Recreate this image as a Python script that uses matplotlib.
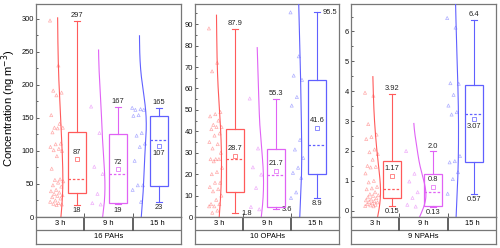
import numpy as np
import matplotlib.pyplot as plt
from matplotlib.patches import Rectangle
from matplotlib.ticker import MultipleLocator

plt.rcParams["font.family"] = ["Liberation Sans", "DejaVu Sans"]

hours = ["3 h", "9 h", "15 h"]
groups = ["16 PAHs", "10 OPAHs", "9 NPAHs"]
colors = ["#FF5A5A", "#E062F5", "#6060FF"]

# individual samples (ng m-3)
pah_3h = [297, 229, 191, 188, 184, 154, 141, 135, 135, 134, 128, 111, 110, 106, 103,
          101, 100, 92, 73, 57, 56, 54, 52, 48, 46, 41, 39, 37, 35, 33, 32, 30, 28,
          25, 23, 21, 20, 19, 18]
pah_9h = [167, 127, 76, 65, 35, 21, 19]
pah_15h = [165, 163, 162, 162, 154, 153, 127, 123, 111, 106, 85, 48, 48, 41, 23]

opah_3h = [88, 72, 68, 49, 48, 47, 45, 43, 42, 42, 41, 39, 38, 35, 34, 32, 30, 27,
           27, 27, 26, 23, 21, 20, 16, 16, 14, 13, 12, 10, 8, 6, 6, 5, 5, 3, 2]
opah_9h = [55.3, 32, 23.2, 19.8, 13.6, 4.7, 3.6]
opah_15h = [95.5, 75, 66, 64, 56, 52, 36, 31.5, 27.6, 23, 20.6, 18.3, 11.5, 8.9]

npah_3h = [3.95, 3.85, 2.9, 2.55, 2.47, 2.4, 2.05, 1.96, 1.9, 1.71, 1.5, 1.47, 1.45,
           1.25, 1.0, 0.95, 0.8, 0.75, 0.72, 0.62, 0.55, 0.52, 0.5, 0.45, 0.42, 0.38,
           0.35, 0.32, 0.3, 0.28, 0.25, 0.22, 0.2, 0.18, 0.16, 0.15]
npah_9h = [2.0, 1.24, 0.98, 0.62, 0.43, 0.2, 0.14]
npah_15h = [6.45, 6.13, 4.27, 4.25, 3.88, 3.52, 3.3, 3.22, 1.83, 1.66, 1.62, 1.29,
            1.06, 0.57]

# box statistics
pah_q1, pah_med, pah_q3 = [36, 21, 47], [57, 64.5, 117], [128, 126, 153]
opah_q1, opah_med, opah_q3 = [11.5, 4.7, 20.3], [27.1, 19.7, 33.4], [41.3, 31.7, 63.8]
npah_q1, npah_med, npah_q3 = [0.41, 0.17, 1.63], [0.73, 0.64, 3.25], [1.67, 1.23, 4.22]

pah_mean, pah_min, pah_max = ["87", "72", "107"], ["18", "19", "23"], ["297", "167", "165"]
opah_mean, opah_min, opah_max = ["28.7", "21.7", "41.6"], ["1.8", "3.6", "8.9"], ["87.9", "55.3", "95.5"]
npah_mean, npah_min, npah_max = ["1.17", "0.8", "3.07"], ["0.15", "0.13", "0.57"], ["3.92", "2.0", "6.4"]

FS = 5.4
EDGE = "#777777"


def draw_panel(ax, tax, samples, q1, med, q3, mean_s, lo_s, hi_s, ylim, major, minor, name):
    pos = [0.84, 1.69, 2.54]
    box_w = 0.37
    cap_w = 0.12
    yr = ylim[1] - ylim[0]
    for i in range(3):
        c = colors[i]
        p = pos[i]
        d = np.asarray(samples[i], float)
        mean, lo, hi = float(mean_s[i]), float(lo_s[i]), float(hi_s[i])

        k = np.arange(len(d))
        jit = ((k * 0.618034) % 1.0 - 0.5) * 0.28
        ax.scatter(p - 0.41 + jit, d, marker="^", s=5, facecolors="none",
                   edgecolors=c, linewidths=0.5, alpha=0.5, zorder=2)

        # half violin (gaussian kde outline)
        sd = d.std(ddof=1)
        bw = 0.75 * sd
        yy = np.linspace(d.mean() - 3.2 * sd, d.mean() + 3.2 * sd, 300)
        dens = np.exp(-0.5 * ((yy[:, None] - d[None, :]) / bw) ** 2).sum(1)
        dens /= len(d) * bw * np.sqrt(2 * np.pi)
        ax.plot(p - 0.40 + dens * yr * 0.07, yy, color=c, lw=0.8, zorder=3)

        ax.add_patch(Rectangle((p - box_w / 2, q1[i]), box_w, q3[i] - q1[i],
                               fill=False, ec=c, lw=0.9, zorder=4))
        ax.plot([p - box_w / 2, p + box_w / 2], [med[i], med[i]], color=c,
                ls=(0, (2.0, 1.5)), lw=0.9, zorder=4)
        ax.plot([p, p], [q3[i], hi], color=c, lw=0.8, zorder=4)
        ax.plot([p, p], [lo, q1[i]], color=c, lw=0.8, zorder=4)
        for v in (lo, hi):
            ax.plot([p - cap_w / 2, p + cap_w / 2], [v, v], color=c, lw=0.8, zorder=4)
        ax.plot(p, mean, marker="s", ms=2.3, mfc="none", mec=c, mew=0.5, zorder=5)

        if med[i] > mean:
            ax.annotate(mean_s[i], (p, mean), xytext=(0, -3), textcoords="offset points",
                        ha="center", va="top", fontsize=FS, color="#222222")
        else:
            ax.annotate(mean_s[i], (p, mean), xytext=(0, 2.5), textcoords="offset points",
                        ha="center", va="bottom", fontsize=FS, color="#222222")

        if (ylim[1] - hi) / yr < 0.06:
            ax.annotate(hi_s[i], (p + cap_w / 2, hi), xytext=(2, 0), textcoords="offset points",
                        ha="left", va="center", fontsize=FS, color="#222222")
        else:
            ax.annotate(hi_s[i], (p, hi), xytext=(0, 1), textcoords="offset points",
                        ha="center", va="bottom", fontsize=FS, color="#222222")
        if (lo - ylim[0]) / yr < 0.04:
            ax.annotate(lo_s[i], (p + cap_w / 2, lo), xytext=(2, 0), textcoords="offset points",
                        ha="left", va="center", fontsize=FS, color="#222222")
        else:
            ax.annotate(lo_s[i], (p, lo), xytext=(0, -1.5), textcoords="offset points",
                        ha="center", va="top", fontsize=FS, color="#222222")

    ax.set_xlim(0, 3)
    ax.set_ylim(*ylim)
    ax.yaxis.set_major_locator(MultipleLocator(major))
    ax.yaxis.set_minor_locator(MultipleLocator(minor))
    ax.set_xticks([1, 2])
    ax.set_xticklabels([])
    ax.tick_params(axis="both", which="both", direction="in", colors="#444444",
                   labelcolor="#111111", labelsize=FS, pad=1.5, width=0.6)
    ax.tick_params(axis="y", which="major", length=2.5)
    ax.tick_params(axis="y", which="minor", length=1.5)
    ax.tick_params(axis="x", length=3)
    for s in ax.spines.values():
        s.set_color(EDGE)
        s.set_linewidth(0.9)

    tax.set_xlim(0, 3)
    tax.set_ylim(0, 26.5)
    tax.set_xticks([])
    tax.set_yticks([])
    for s in tax.spines.values():
        s.set_color(EDGE)
        s.set_linewidth(0.9)
    tax.axhline(14, color=EDGE, lw=0.9)
    for x in (1, 2):
        tax.plot([x, x], [14, 26.5], color="#555555", lw=1.3)
    for i, h in enumerate(hours):
        tax.text(i + 0.5, 20.2, h, ha="center", va="center", fontsize=FS)
    tax.text(1.5, 7, name, ha="center", va="center", fontsize=FS)


fig = plt.figure(figsize=(5.0, 2.48), dpi=100)
W, H = 500.0, 248.0
panels = [(36, 181), (195, 339), (351, 496)]
axes, taxes = [], []
for l, r in panels:
    axes.append(fig.add_axes([l / W, 1 - 217 / H, (r - l) / W, 213 / H]))
    taxes.append(fig.add_axes([l / W, 1 - 243.5 / H, (r - l) / W, 26.5 / H]))

draw_panel(axes[0], taxes[0], [pah_3h, pah_9h, pah_15h], pah_q1, pah_med, pah_q3,
           pah_mean, pah_min, pah_max, (0, 322), 50, 25, groups[0])
draw_panel(axes[1], taxes[1], [opah_3h, opah_9h, opah_15h], opah_q1, opah_med, opah_q3,
           opah_mean, opah_min, opah_max, (0, 99.4), 10, 5, groups[1])
draw_panel(axes[2], taxes[2], [npah_3h, npah_9h, npah_15h], npah_q1, npah_med, npah_q3,
           npah_mean, npah_min, npah_max, (-0.21, 6.92), 1, 0.5, groups[2])

fig.text(9 / W, 1 - 108 / H, "Concentration (ng m$^{-3}$)", rotation=90,
         ha="center", va="center", fontsize=8)

fig.savefig("out.png", dpi=100)
